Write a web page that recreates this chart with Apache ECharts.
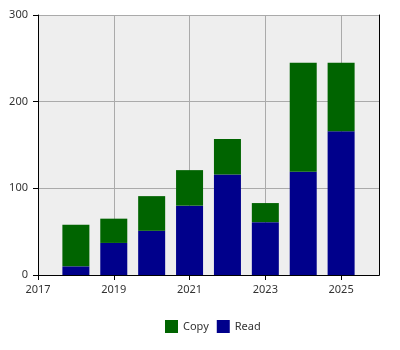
<!DOCTYPE html>
<html><head><meta charset="utf-8">
<script src="https://cdn.jsdelivr.net/npm/echarts@6/dist/echarts.min.js"></script>
<style>html,body{margin:0;padding:0;background:#fff}#c{width:400px;height:350px}</style>
</head><body><div id="c"></div>
<script>
const years = [2018, 2019, 2020, 2021, 2022, 2023, 2024, 2025];
const readValues = [10, 37, 51, 80, 116, 61, 119, 166];
const copyValues = [48, 28, 40, 41, 41, 22, 126, 79];
const xTickLabels = [2017, 2019, 2021, 2023, 2025];
const yTickLabels = [0, 100, 200, 300];
const xMin = 2017, xMax = 2026;

const axisYears = [];
for (let y = xMin; y <= xMax; y++) axisYears.push(String(y));
const valueFor = (arr) => axisYears.map(y => {
  const i = years.indexOf(Number(y));
  return i >= 0 ? arr[i] : null;
});
const isTick = (idx) => xTickLabels.includes(Number(axisYears[idx]));

const chart = echarts.init(document.getElementById('c'), null, {renderer: 'canvas'});
const font = 'Noto Sans';
const frameAxis = {
  show: true,
  axisLine: {show: true, lineStyle: {color: '#000'}},
  axisTick: {show: false}, axisLabel: {show: false}, splitLine: {show: false}
};
chart.setOption({
  animation: false,
  textStyle: {fontFamily: font},
  grid: {left: 38, right: 21, top: 15, bottom: 75, show: true, backgroundColor: '#eeeeee', borderWidth: 0},
  legend: {
    bottom: 12, left: 160, itemWidth: 13, itemHeight: 13, itemGap: 8,
    icon: 'rect', data: ['Copy', 'Read'],
    textStyle: {fontFamily: font, fontSize: 11, color: '#333'}
  },
  xAxis: [{
    type: 'category', data: axisYears, boundaryGap: false,
    axisLine: {show: true, lineStyle: {color: '#000'}},
    axisTick: {show: true, length: 5, lineStyle: {color: '#000'}, interval: (idx) => isTick(idx)},
    axisLabel: {fontSize: 11, color: '#333', margin: 9, interval: (idx) => isTick(idx)},
    splitLine: {show: true, interval: (idx) => isTick(idx), lineStyle: {color: '#aaaaaa'}}
  }, Object.assign({type: 'category', data: axisYears, boundaryGap: false, position: 'top'}, frameAxis)],
  yAxis: [{
    type: 'value', min: 0, max: 300, interval: 100,
    axisLine: {show: true, lineStyle: {color: '#000'}},
    axisTick: {show: true, length: 5, lineStyle: {color: '#000'}},
    axisLabel: {fontSize: 11, color: '#333', margin: 10, formatter: v => yTickLabels.includes(v) ? String(v) : ''},
    splitLine: {show: true, lineStyle: {color: '#aaaaaa'}}
  }, Object.assign({type: 'value', min: 0, max: 300, position: 'right'}, frameAxis)],
  series: [
    {name: 'Read', type: 'bar', stack: 't', barWidth: 27, itemStyle: {color: '#00008b'}, data: valueFor(readValues)},
    {name: 'Copy', type: 'bar', stack: 't', barWidth: 27, itemStyle: {color: '#006400'}, data: valueFor(copyValues)}
  ]
});
</script></body></html>
